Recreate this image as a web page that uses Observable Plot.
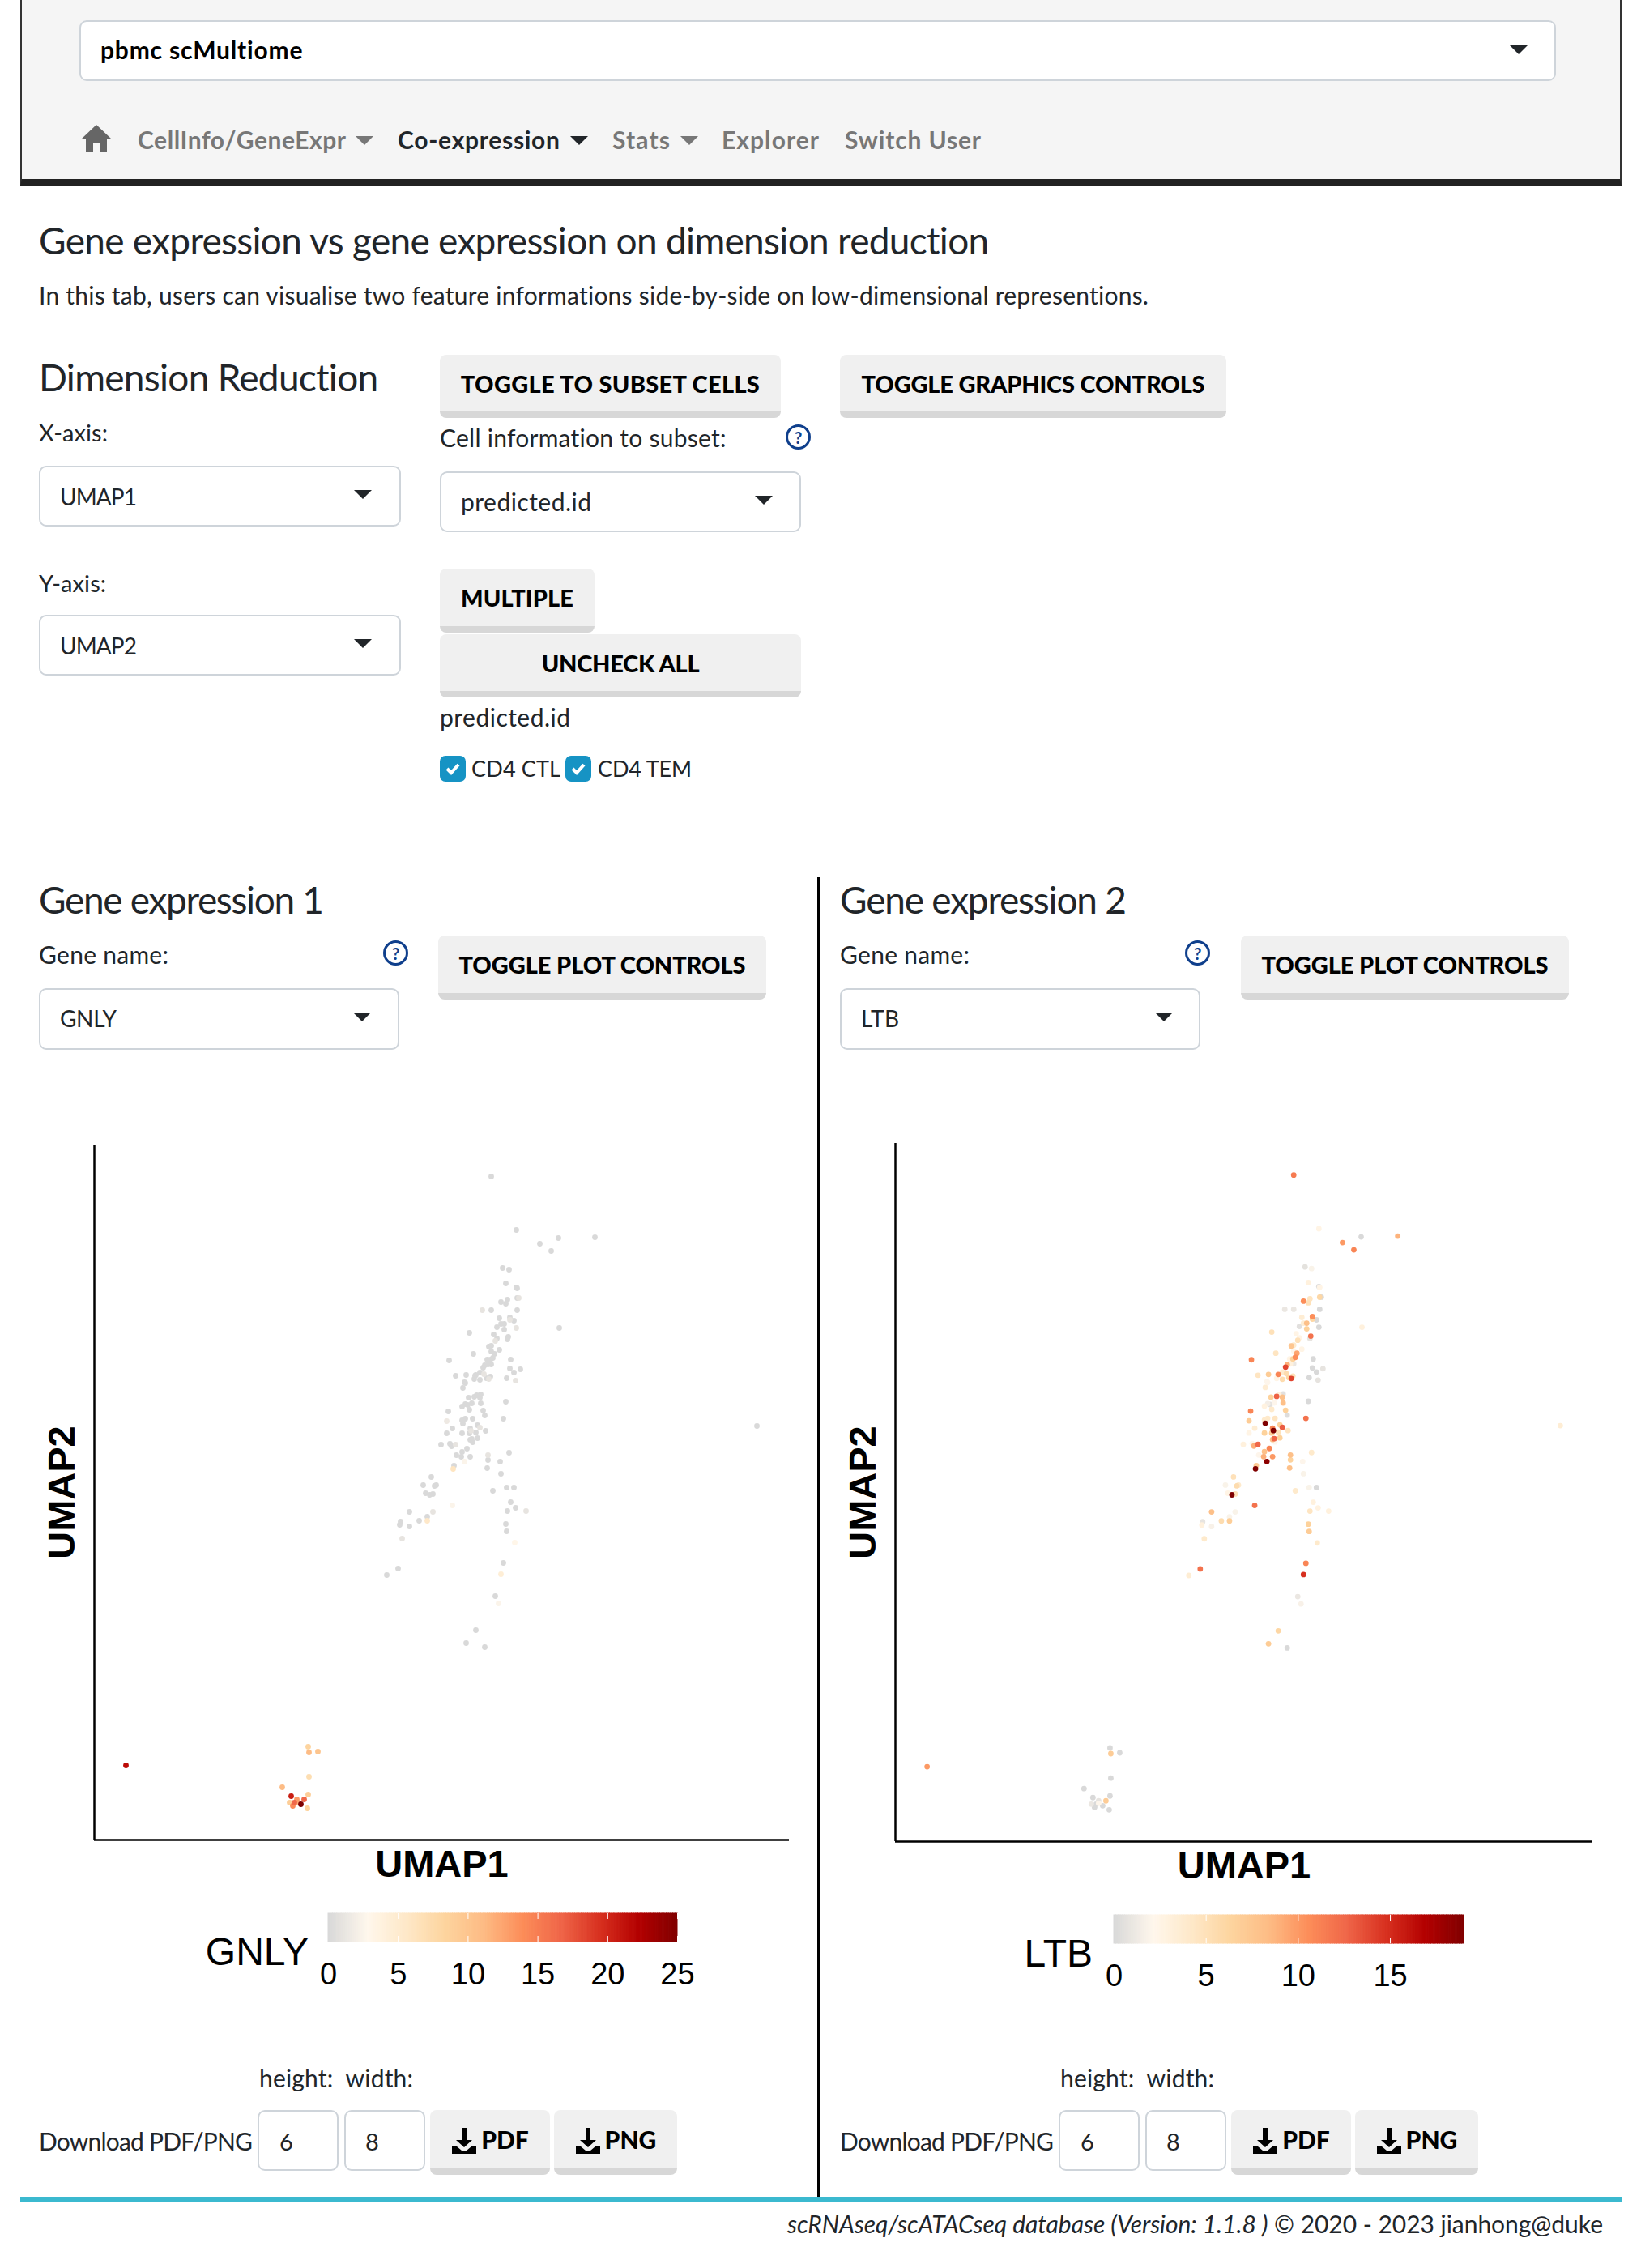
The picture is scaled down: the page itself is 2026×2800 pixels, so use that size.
<!DOCTYPE html>
<html>
<head>
  <meta charset="utf-8">
  <!-- load d3 and plot -->
  <script src="https://cdn.jsdelivr.net/npm/d3@7"></script>
  <script src="https://cdn.jsdelivr.net/npm/@observablehq/plot@0.6"></script>
  <style>
    body { margin: 0; background: #fff; font-family: Lato, sans-serif; color: #212529; }
    #page { position: relative; width: 2026px; height: 2800px; overflow: hidden; }
    #page > * { position: absolute; box-sizing: border-box; }
    .t { white-space: nowrap; transform: translateY(-50%); }
    .box { background: #fff; border: 2px solid #ced4da; border-radius: 9px; }
    .btn { background: #f0f0f0; border-bottom: 8px solid #d7d7d7; border-radius: 8px; font-weight: 900; color: #000;
           display: flex; align-items: center; justify-content: center; white-space: nowrap; }
    .caret { width: 0; height: 0; border-left: 11px solid transparent; border-right: 11px solid transparent; border-top: 11px solid #212529; }
    .help { width: 31px; height: 31px; border: 3px solid #0f3f8c; border-radius: 50%; color: #0f3f8c; font-size: 21px; font-weight: 700;
            display: flex; align-items: center; justify-content: center; }
    .check { background: #1693c4; border-radius: 7px; width: 32px; height: 32px; }
  </style>
</head>
<body>
  <div id="page"></div>
  <script>
    // cell coordinates on the dimension reduction
    const umap1 = [
      49.0,52.1,55.0,57.3,56.4,61.8,50.4,51.2,50.8,52.1,
      52.2,52.2,52.4,51.0,50.2,50.8,47.9,49.0,52.2,50.0,
      51.3,51.3,51.8,50.2,50.6,49.7,50.6,52.1,57.4,46.3,
      49.3,49.7,51.1,51.0,49.5,48.7,49.0,49.0,50.0,49.4,
      46.8,43.8,49.2,48.5,48.9,51.4,48.2,49.0,48.6,48.0,
      51.3,52.6,51.8,47.6,48.1,47.1,45.9,44.6,47.0,46.9,
      48.9,48.4,48.7,47.6,50.9,52.0,45.7,45.8,45.5,47.7,
      47.2,46.9,46.2,47.6,50.8,47.7,46.6,45.8,46.1,45.4,
      46.3,43.7,48.0,48.2,45.8,46.7,50.5,45.4,43.5,45.5,
      47.3,47.6,44.2,46.4,46.5,48.3,43.5,45.4,46.3,47.1,
      46.6,46.4,47.3,46.7,42.8,43.9,44.1,44.6,46.0,45.4,
      51.2,44.7,45.3,46.4,48.6,48.6,50.1,45.7,44.4,44.3,
      48.5,50.2,41.6,40.6,42.0,42.2,40.9,41.4,41.8,49.2,
      50.9,51.8,51.4,52.0,51.0,53.3,50.8,50.9,51.9,50.5,
      50.2,49.5,49.9,47.1,45.9,48.2,38.9,41.8,44.2,41.1,
      41.1,40.1,37.8,37.7,38.9,38.0,37.5,36.1,3.9,26.4,
      26.5,27.6,26.5,23.2,26.4,24.3,25.0,25.9,24.1,24.7,
      25.5,24.5,26.3,25.0,81.8
    ];
    const umap2 = [
      81.9,75.3,73.6,74.3,72.7,74.4,70.6,70.4,68.7,68.2,
      68.1,66.9,66.9,66.7,66.4,66.2,65.4,65.4,65.4,64.4,
      64.5,64.2,64.1,63.7,63.7,63.3,63.0,63.2,63.2,62.6,
      62.4,61.9,62.1,61.8,61.6,60.9,61.0,60.3,60.5,60.0,
      60.0,59.2,59.5,59.3,59.3,59.3,58.6,58.7,58.7,58.3,
      58.2,58.1,57.7,57.7,57.5,57.4,57.4,57.3,57.3,56.9,
      57.2,57.0,56.9,56.8,57.0,56.7,56.5,56.4,55.8,55.0,
      54.9,54.7,54.6,54.6,54.1,53.9,53.9,53.8,53.7,53.5,
      53.1,52.9,53.0,52.4,52.0,52.0,52.0,51.8,51.7,51.4,
      51.2,50.9,50.8,50.8,50.5,50.5,50.2,50.2,50.2,50.3,
      49.5,49.4,49.6,49.1,48.8,48.9,48.6,48.8,48.3,47.9,
      47.8,47.5,47.3,47.3,47.5,46.9,46.7,46.7,46.2,45.8,
      45.9,45.2,44.8,43.8,43.7,43.8,42.8,42.6,42.7,43.1,
      43.5,43.5,41.7,41.0,40.6,40.6,39.0,38.1,36.7,34.2,
      32.8,30.1,29.2,25.9,24.3,23.8,40.5,40.5,41.3,39.9,
      39.4,39.4,39.3,38.9,38.7,37.2,33.5,32.7,9.2,11.5,
      10.8,10.9,7.8,6.5,5.6,5.4,5.0,5.0,4.6,4.6,
      4.4,4.2,3.9,4.7,51.1
    ];
    // expression of the two genes in the same cells
    const gnly = [
      0,0,0,0,0,0,0,0,0,0,
      0,0,1,0,0,0,1,0,0,0,
      0,1,0,0,0,0,0,1,0,0,
      0,0,0,0,1,0,0,0,0,0,
      0,0,0,0,0,0,0,0,0,0,
      0,0,0,0,1,0,0,0,0,0,
      0,0,1,0,0,1,0,0,0,0,
      0,0,0,0,0,0,0,0,0,0,
      0,0,0,0,0,0,0,0,1.5,0,
      0,1,0,0,1,0,0,0,0,0,
      0,0,0,0,0,0,0,1,0,0,
      0,0,0,0,1,0,0,2.5,0,6,
      0,0,0,0,0,0,0,0,0,0,
      0,0,0,0,0,1,0,0,3,0,
      4.5,0,2.5,0,0,0,0,1,2.5,0,
      5.5,0,0,0,0,1,0,0,21.5,8.3,
      11,10,7,11,9,20.5,13,16.5,9,16.5,
      25,14,8.5,12,0
    ];
    const ltb = [
      11.5,2.5,10,0,11,8.8,0.6,1.8,3,0.3,
      2.5,6,0,4.5,10.5,5,1,1,0,3.5,
      10.5,6,0,3.5,8,0.5,6.5,0,3,5,
      2.5,2.5,12,0.8,5,7.5,4,2,2.5,9.5,
      4.5,11,10.5,2.5,6.5,0,9,1,3,14,
      0,0.8,0,4,5.5,11,7,4.5,2.5,2.5,
      5,6,14,5.5,0,0.7,2,2,3.5,0.5,
      3,12.8,6.5,8,0,8,2,1.5,0.5,2.8,
      4,11,6.5,0.3,4,4.5,12,4,7,19,
      6.5,13,3.5,11,19,4.5,2.5,6.5,7,5,
      12.7,8,6.5,2,3,2,9,12.5,11,8,
      4,2,9,10,8,6.5,2,18.5,7,19,
      8,1.8,5,1.8,5.5,4,2.5,19,5,4,
      1.8,0,3,2.8,4.5,3,6.5,7,4,11,
      14.8,1,1.7,6,7,0,8,1.8,12,1.8,
      6.8,5.5,0.8,3,1.7,4,12,3.5,10,0,
      7,0,0,0,0,0,0.8,7,1,0,
      0,0,0,2,3.5
    ];
    const gnlyMax = 25, ltbMax = 19;
    const gnlyTicks = [0, 5, 10, 15, 20, 25];
    const ltbTicks = [0, 5, 10, 15];
    const expressionColours = ["#d9d9d9", "#fff7ec", "#fee8c8", "#fdd49e", "#fdbb84", "#fc8d59", "#ef6548", "#d7301f", "#b30000", "#7f0000"];

    const page = document.getElementById("page");

    // small helper: absolutely placed element
    function put(cls, x, y, w, h, html) {
      const el = document.createElement("div");
      el.className = cls;
      el.style.left = x + "px";
      el.style.top = y + "px";
      if (w != null) el.style.width = w + "px";
      if (h != null) el.style.height = h + "px";
      if (html != null) el.innerHTML = html;
      page.appendChild(el);
      return el;
    }
    // text centred on y, stretched to the width seen in the screenshot
    function text(x, y, str, size, width, style = {}) {
      const el = put("t", x, y - 1.5, null, null, str);
      el.style.fontSize = size + "px";
      Object.assign(el.style, style);
      if (width) {
        const n = el.textContent.length - 1;
        el.style.letterSpacing = (width - el.getBoundingClientRect().width) / n + "px";
      }
      return el;
    }
    function button(x, y, w, h, label, size, width) {
      const el = put("btn", x, y, w, h);
      el.style.fontSize = size + "px";
      const span = document.createElement("span");
      span.innerHTML = label;
      el.appendChild(span);
      if (width) span.style.letterSpacing = (width - span.getBoundingClientRect().width) / (span.textContent.length - 1) + "px";
      return el;
    }
    function select(x, y, w, h, label, size, bold, width, nudge = 0) {
      put("box", x, y, w, h);
      text(x + 26, y + h / 2 + nudge, label, size, width, bold ? {fontWeight: 700, color: "#000"} : {});
    }
    const downloadIcon = '<svg width="32" height="34" viewBox="0 0 32 34" style="margin-right:5px;vertical-align:-7px"><path d="M13 1h6v15h7L16 25 6 16h7zM1 24h6l6 5h6l6-5h6v9H1z" fill="#000"/></svg>';

    // navigation bar
    put("", 25, 0, 1977, 230).style.cssText += "background:#f5f5f5;border-left:2px solid #333;border-right:2px solid #333;border-bottom:9px solid #222;";
    put("box", 98, 25, 1823, 75);
    text(124, 62, "pbmc scMultiome", 30, 250, {fontWeight: 700, color: "#000"});
    put("caret", 1864, 56);
    put("", 100, 153, 38, 36, '<svg width="38" height="36" viewBox="0 0 38 36"><path d="M19 1L1 18h5v17h9V24h8v11h9V18h5z" fill="#666"/></svg>');
    const navColour = {fontWeight: 700, color: "#777"};
    text(170, 173, "CellInfo/GeneExpr", 30, 257, navColour);
    put("caret", 439, 168).style.borderTopColor = "#777";
    text(491, 173, "Co-expression", 30, 200, {fontWeight: 700, color: "#212529"});
    put("caret", 704, 168);
    text(756, 173, "Stats", 30, 71, navColour);
    put("caret", 840, 168).style.borderTopColor = "#777";
    text(891, 173, "Explorer", 30, 120, navColour);
    text(1043, 173, "Switch User", 30, 168, navColour);

    // page heading
    text(48, 297, "Gene expression vs gene expression on dimension reduction", 46, 1174);
    text(48, 365, "In this tab, users can visualise two feature informations side-by-side on low-dimensional representions.", 30, 1371);

    // dimension reduction controls
    text(48, 466, "Dimension Reduction", 46, 420);
    text(48, 534, "X-axis:", 29, 85);
    select(48, 575, 447, 75, "UMAP1", 28, false, 95, 2);
    put("caret", 437, 605);
    text(48, 720, "Y-axis:", 29, 83);
    select(48, 759, 447, 75, "UMAP2", 28, false, 95, 2);
    put("caret", 437, 789);

    button(543, 438, 421, 78, "TOGGLE TO SUBSET CELLS", 29, 369);
    button(1037, 438, 477, 78, "TOGGLE GRAPHICS CONTROLS", 29, 424);
    text(543, 541, "Cell information to subset:", 30, 354);
    put("help", 970, 524, null, null, "?");
    select(543, 582, 446, 75, "predicted.id", 30, false, 161, 1);
    put("caret", 932, 612);
    button(543, 702, 191, 79, "MULTIPLE", 29, 139);
    button(543, 783, 446, 78, "UNCHECK ALL", 29, 195);
    text(543, 886, "predicted.id", 30, 161);
    const tickMark = '<svg width="32" height="32" viewBox="0 0 32 32"><path d="M9 16l5 5 9-10" fill="none" stroke="#fff" stroke-width="4"/></svg>';
    put("check", 543, 933, null, null, tickMark);
    text(582, 949, "CD4 CTL", 27, 110);
    put("check", 698, 933, null, null, tickMark);
    text(738, 949, "CD4 TEM", 27, 116);

    // one gene panel, dx moves it to the right hand column
    function genePanel(dx, title, gene) {
      text(48 + dx, 1111, title, 46, dx ? 354 : 352);
      text(48 + dx, 1179, "Gene name:", 30, 160);
      put("help", (dx ? 1463 : 473), 1161, null, null, "?");
      button(dx ? 1532 : 541, 1155, 405, 79, "TOGGLE PLOT CONTROLS", 29, 354);
      select(48 + dx, 1220, 445, 76, gene, 28, false, gene === "GNLY" ? 70 : 47);
      put("caret", (dx ? 1426 : 436), 1250);
      text(320 + dx, 2566, "height:&nbsp; width:", 30, 190);
      text(48 + dx, 2644, "Download PDF/PNG", 30, 264);
      put("box", 318 + dx, 2605, 100, 75);
      text(345 + dx, 2644, "6", 29);
      put("box", 425 + dx, 2605, 100, 75);
      text(451 + dx, 2644, "8", 29);
      button(531 + dx, 2605, 148, 80, downloadIcon + "PDF", 30);
      button(684 + dx, 2605, 152, 80, downloadIcon + "PNG", 30);
    }
    genePanel(0, "Gene expression 1", "GNLY");
    genePanel(989, "Gene expression 2", "LTB");

    // divider and footer
    put("", 1009, 1083, 4, 1632).style.background = "#000";
    put("", 25, 2712, 1977, 7).style.background = "#3bb9cf";
    text(972, 2746, "<i>scRNAseq/scATACseq database (Version: 1.1.8 )</i> © 2020 - 2023 jianhong@duke", 30, 1007);

    // scatter of one gene on the dimension reduction
    function umapChart(values, max, left, top, frameW, frameH) {
      const cells = umap1.map((u, i) => ({u1: u, u2: umap2[i], value: values[i]}));
      const chart = Plot.plot({
        width: frameW + 116, height: frameH + 80,
        marginLeft: 116, marginRight: 0, marginTop: 0, marginBottom: 80,
        style: {fontFamily: "Liberation Sans", background: "transparent", overflow: "visible"},
        x: {domain: [0, 85.8]},
        y: {domain: [0, 85.8]},
        color: {type: "linear", domain: expressionColours.map((c, i) => i / 9 * max), range: expressionColours},
        marks: [
          Plot.axisX({ticks: [], label: "UMAP1", labelAnchor: "center", labelArrow: "none", labelOffset: 45, fontSize: 47, fontWeight: "bold", fill: "#000", tickSize: 0}),
          Plot.axisY({ticks: [], label: "UMAP2", labelAnchor: "center", labelArrow: "none", labelOffset: 58, fontSize: 47, fontWeight: "bold", fill: "#000", tickSize: 0}),
          Plot.ruleX([0], {stroke: "#000", strokeWidth: 2.5}),
          Plot.ruleY([0], {stroke: "#000", strokeWidth: 2.5}),
          Plot.dot(cells, {x: "u1", y: "u2", r: 3.4, fill: "value", sort: "value"})
        ]
      });
      chart.style.position = "absolute";
      chart.style.left = left - 116 + "px";
      chart.style.top = top + "px";
      page.appendChild(chart);
    }
    umapChart(gnly, gnlyMax, 116, 1413, 858, 858);
    umapChart(ltb, ltbMax, 1105, 1411, 861, 862);

    // colour bar with its ticks below
    function colourBar(gene, max, ticks, left, top, barW, titleRight) {
      const step = max / 160;
      const ramp = d3.range(0, max, step);
      const chart = Plot.plot({
        width: barW + 60, height: 105,
        marginLeft: 30, marginRight: 30, marginTop: 0, marginBottom: 70,
        style: {fontFamily: "Liberation Sans", background: "transparent", overflow: "visible"},
        x: {domain: [0, max]},
        y: {domain: [0, 1], axis: null},
        color: {type: "linear", domain: expressionColours.map((c, i) => i / 9 * max), range: expressionColours},
        marks: [
          Plot.rect(ramp, {x1: d => d, x2: d => d + step, y1: 0, y2: 1, fill: d => d, stroke: d => d}),
          Plot.ruleX(ticks.slice(1), {y1: 0, y2: 0.2, stroke: "#fff", strokeWidth: 1}),
          Plot.ruleX(ticks.slice(1), {y1: 0.8, y2: 1, stroke: "#fff", strokeWidth: 1}),
          Plot.axisX(ticks, {label: null, tickSize: 0, tickPadding: 25.5, fontSize: 38, fill: "#000"})
        ]
      });
      chart.style.position = "absolute";
      chart.style.left = left - 30 + "px";
      chart.style.top = top + "px";
      page.appendChild(chart);
      const title = text(0, top + 48, gene, 48, null, {fontFamily: "Liberation Sans", color: "#000"});
      title.style.left = titleRight - title.getBoundingClientRect().width + "px";
    }
    colourBar("GNLY", gnlyMax, gnlyTicks, 405, 2362, 431, 381);
    colourBar("LTB", ltbMax, ltbTicks, 1375, 2364, 432, 1349);
  </script>
</body>
</html>
